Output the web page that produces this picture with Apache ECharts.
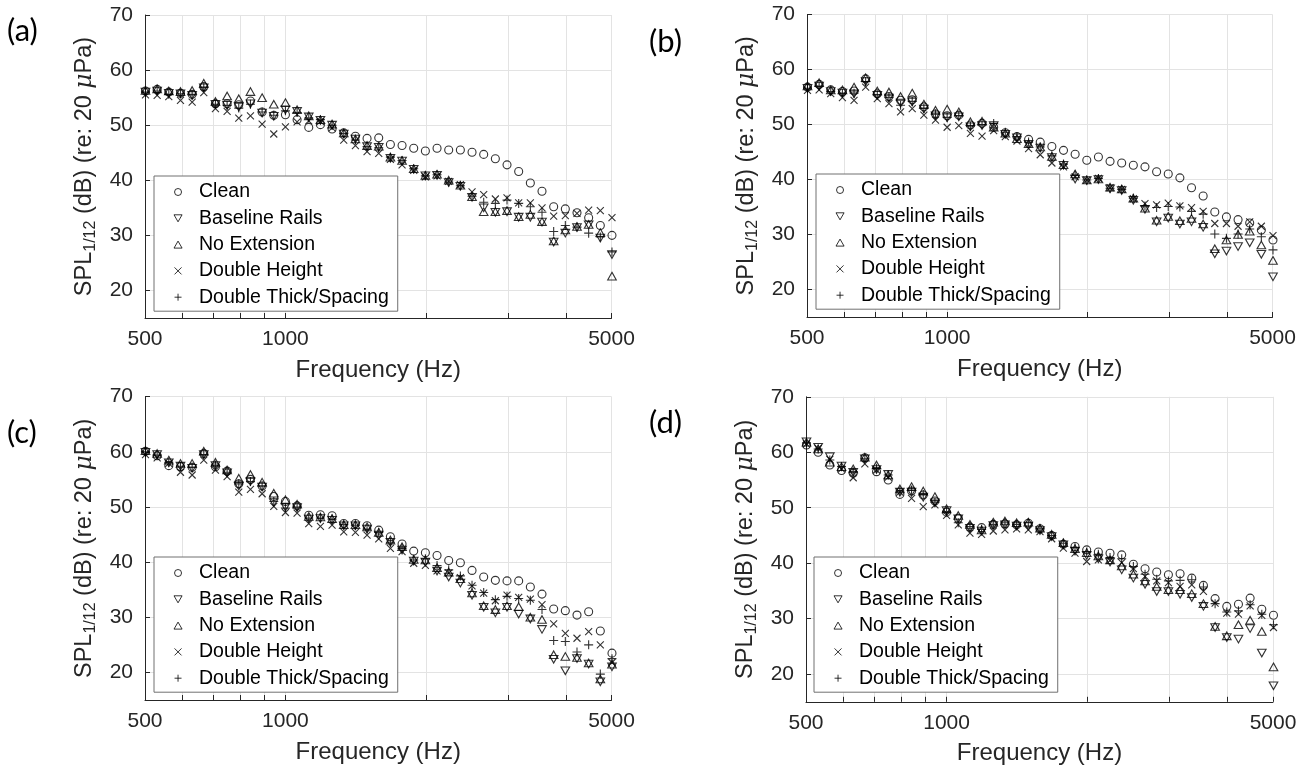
<!DOCTYPE html>
<html>
<head>
<meta charset="utf-8">
<script src="https://cdn.jsdelivr.net/npm/echarts@6/dist/echarts.min.js"></script>
<style>
  html, body { margin: 0; padding: 0; background: #ffffff; }
  #chart { width: 1309px; height: 769px; }
</style>
</head>
<body>
<div id="chart"></div>
<script>
// 1/12-octave band centre frequencies (Hz)
const freqHz = [501.2, 530.9, 562.3, 595.7, 631.0, 668.3, 707.9, 749.9, 794.3, 841.4,
  891.3, 944.1, 1000.0, 1059.3, 1122.0, 1188.5, 1258.9, 1333.5, 1412.5, 1496.2,
  1584.9, 1678.8, 1778.3, 1883.6, 1995.3, 2113.5, 2238.7, 2371.4, 2511.9, 2660.7,
  2818.4, 2985.4, 3162.3, 3349.7, 3548.1, 3758.4, 3981.1, 4217.0, 4466.8, 4731.5, 5011.9];

const seriesNames = ['Clean', 'Baseline Rails', 'No Extension', 'Double Height', 'Double Thick/Spacing'];
const panelLabels = ['(a)', '(b)', '(c)', '(d)'];
const xTickValues = [500, 600, 700, 800, 900, 1000, 2000, 3000, 4000, 5000];
const xLabelValues = [500, 1000, 5000];
const yTickValues = [20, 30, 40, 50, 60, 70];

// Panel (a) SPL, dB
const aClean = [56.2, 56.5, 56.0, 55.8, 55.6, 57.0, 53.9, 53.9, 53.7, 54.4, 52.4, 51.8, 51.9, 51.0, 49.6, 50.1, 49.3, 48.6, 48.0, 47.6, 47.7, 46.5, 46.3, 45.8, 45.3, 45.8, 45.5, 45.5, 45.1, 44.7, 43.9, 42.8, 41.6, 39.5, 38.0, 35.2, 34.8, 34.1, 33.2, 31.8, 30.0];
const aBaseline = [56.0, 56.2, 55.8, 55.7, 55.4, 56.8, 53.8, 53.6, 53.3, 53.9, 52.2, 51.6, 52.8, 52.5, 51.5, 50.9, 50.0, 48.4, 47.5, 46.1, 46.0, 44.0, 43.5, 42.0, 40.8, 40.9, 39.6, 38.9, 36.9, 35.0, 34.2, 34.3, 33.3, 33.3, 32.4, 28.8, 30.4, 31.4, 31.9, 29.5, 26.5];
const aNoExt = [56.3, 56.6, 56.2, 56.1, 56.3, 57.6, 54.3, 55.3, 54.8, 56.1, 55.0, 53.8, 54.1, 52.8, 51.7, 51.0, 50.2, 48.6, 47.5, 46.3, 46.2, 44.2, 43.6, 42.1, 40.9, 41.1, 40.0, 39.1, 37.0, 34.3, 34.3, 34.5, 33.4, 33.8, 32.5, 29.0, 31.0, 31.6, 32.0, 30.5, 22.6];
const aDoubleHeight = [55.5, 55.4, 55.2, 54.5, 54.2, 55.9, 53.0, 52.5, 51.3, 51.7, 50.2, 48.4, 49.7, 50.6, 50.8, 50.7, 49.5, 47.3, 46.3, 45.2, 44.9, 43.8, 42.8, 41.8, 40.6, 40.8, 39.8, 39.2, 37.9, 37.4, 36.6, 36.8, 35.9, 35.9, 35.0, 33.5, 33.6, 34.0, 34.6, 34.5, 33.2];
const aDoubleThick = [56.0, 56.2, 55.6, 55.7, 55.5, 56.8, 53.8, 53.6, 53.1, 53.8, 52.4, 51.8, 52.6, 52.3, 51.3, 51.0, 50.0, 48.5, 47.3, 46.1, 45.9, 44.2, 43.6, 42.1, 40.8, 41.0, 39.7, 39.0, 37.1, 36.0, 35.8, 36.4, 35.8, 35.2, 34.2, 30.7, 31.8, 31.5, 30.4, 29.7, 27.0];

// Panel (b) SPL, dB
const bClean = [56.8, 57.3, 56.3, 56.0, 56.1, 58.3, 55.6, 55.1, 54.4, 54.5, 53.2, 51.9, 51.6, 51.7, 49.9, 50.2, 49.5, 48.5, 47.8, 47.3, 46.8, 46.0, 45.3, 44.6, 43.5, 44.1, 43.3, 43.0, 42.6, 42.3, 41.4, 41.0, 40.3, 38.5, 37.0, 34.1, 33.2, 32.7, 32.1, 30.8, 29.0];
const bBaseline = [56.6, 57.0, 56.0, 55.7, 55.6, 57.8, 55.3, 54.8, 53.9, 54.1, 52.8, 51.6, 51.2, 51.4, 49.6, 49.8, 49.8, 48.2, 47.6, 46.4, 45.7, 44.0, 42.6, 40.1, 39.8, 40.0, 38.3, 38.0, 36.2, 34.6, 32.3, 33.0, 31.9, 32.3, 31.3, 26.5, 27.0, 27.8, 28.5, 26.4, 22.3];
const bNoExt = [57.0, 57.6, 56.3, 56.3, 56.8, 58.5, 56.1, 55.9, 55.1, 55.7, 53.7, 52.6, 52.8, 52.3, 50.5, 50.6, 49.5, 48.4, 47.4, 46.5, 45.9, 44.2, 42.7, 41.0, 39.9, 40.1, 38.6, 38.3, 36.6, 34.8, 32.6, 33.3, 32.5, 32.9, 31.9, 27.4, 29.0, 30.0, 30.6, 28.1, 25.3];
const bDoubleHeight = [56.2, 56.3, 55.6, 54.9, 54.4, 56.8, 54.7, 53.8, 52.3, 52.9, 51.7, 50.8, 49.5, 49.8, 48.4, 47.9, 48.9, 47.8, 47.0, 45.6, 44.5, 43.0, 42.3, 40.5, 39.9, 40.2, 38.5, 38.2, 36.5, 35.6, 35.4, 35.7, 35.2, 34.9, 34.2, 32.0, 32.0, 31.5, 32.3, 31.5, 29.8];
const bDoubleThick = [56.6, 57.0, 56.0, 55.7, 55.7, 57.8, 55.4, 54.9, 53.5, 54.2, 52.9, 51.9, 51.3, 51.6, 49.7, 50.0, 50.2, 48.6, 47.8, 46.8, 45.9, 44.3, 42.8, 40.8, 39.9, 40.2, 38.4, 38.2, 36.6, 35.2, 34.9, 35.1, 35.0, 34.2, 33.7, 30.1, 29.3, 30.1, 31.0, 29.6, 27.2];

// Panel (c) SPL, dB
const cClean = [60.1, 59.3, 57.5, 57.3, 57.2, 59.7, 57.3, 56.5, 54.2, 55.0, 53.8, 51.9, 51.0, 50.2, 48.5, 48.6, 48.4, 47.0, 47.0, 46.6, 45.8, 44.6, 43.3, 42.0, 41.7, 41.2, 40.3, 39.9, 38.5, 37.3, 36.7, 36.6, 36.6, 35.5, 34.2, 31.5, 31.2, 30.4, 31.0, 27.5, 23.5];
const cBaseline = [59.9, 59.5, 58.0, 57.4, 57.0, 59.5, 57.5, 56.2, 53.8, 54.6, 53.6, 50.8, 50.0, 49.9, 47.8, 47.9, 47.6, 46.6, 46.6, 46.0, 44.9, 43.6, 42.2, 40.2, 40.0, 38.4, 37.3, 36.2, 34.0, 31.8, 30.8, 31.8, 30.6, 29.7, 27.8, 22.4, 20.3, 22.5, 21.5, 18.3, 21.0];
const cNoExt = [60.2, 59.7, 58.5, 57.9, 57.9, 60.1, 58.1, 56.7, 55.2, 55.9, 54.5, 52.5, 51.3, 50.5, 48.3, 48.2, 47.9, 46.8, 46.8, 46.4, 45.4, 44.0, 42.8, 40.5, 40.4, 39.0, 38.2, 37.0, 34.4, 32.1, 31.4, 32.1, 31.9, 30.0, 29.6, 23.2, 22.9, 22.7, 21.7, 18.8, 21.5];
const cDoubleHeight = [59.5, 58.9, 57.9, 56.3, 55.8, 58.5, 56.7, 55.5, 52.7, 53.2, 52.4, 50.1, 49.0, 48.9, 47.0, 46.5, 46.7, 45.5, 45.4, 44.9, 44.2, 42.5, 41.9, 39.8, 39.4, 38.4, 38.0, 37.2, 35.7, 34.4, 33.0, 34.0, 33.6, 33.3, 32.3, 28.8, 27.1, 26.2, 27.4, 25.0, 21.8];
const cDoubleThick = [60.0, 59.4, 58.1, 57.4, 57.2, 59.5, 57.6, 56.3, 54.2, 54.6, 53.8, 51.0, 49.8, 50.0, 48.0, 48.0, 47.8, 46.8, 46.7, 46.0, 45.4, 43.6, 42.5, 40.4, 40.6, 39.4, 38.6, 37.5, 35.8, 34.5, 33.2, 33.8, 33.4, 33.1, 31.4, 25.8, 25.6, 23.7, 25.0, 19.7, 22.5];

// Panel (d) SPL, dB
const dClean = [61.3, 60.0, 57.7, 56.7, 56.2, 59.0, 56.5, 55.0, 52.4, 53.0, 52.3, 51.2, 49.2, 48.1, 46.5, 46.4, 47.0, 47.1, 46.9, 47.2, 46.2, 45.0, 43.4, 43.0, 42.4, 42.0, 41.8, 41.5, 39.8, 39.0, 38.4, 37.9, 38.1, 37.3, 36.0, 33.6, 32.2, 32.6, 33.7, 31.7, 30.6];
const dBaseline = [61.9, 60.9, 59.2, 57.5, 56.4, 58.8, 56.9, 56.0, 52.8, 52.8, 51.9, 50.9, 49.5, 48.0, 46.3, 45.8, 46.8, 46.9, 46.7, 46.7, 45.9, 44.8, 43.3, 42.2, 41.4, 40.8, 40.2, 38.8, 37.3, 36.2, 34.9, 34.9, 34.4, 33.8, 32.2, 28.4, 26.6, 26.3, 28.2, 23.8, 17.9];
const dNoExt = [61.8, 60.6, 58.2, 57.4, 57.0, 59.1, 57.7, 55.9, 53.4, 53.8, 53.0, 52.0, 49.8, 48.6, 47.0, 46.0, 47.4, 47.6, 47.3, 47.4, 46.3, 45.2, 43.7, 42.6, 41.9, 41.3, 40.6, 39.5, 38.0, 36.8, 35.8, 35.2, 35.2, 34.5, 32.7, 28.6, 26.9, 28.9, 29.7, 27.7, 21.3];
const dDoubleHeight = [61.5, 60.7, 58.7, 57.0, 55.4, 57.9, 56.8, 55.5, 52.8, 51.7, 50.2, 50.5, 48.6, 46.9, 45.4, 45.2, 45.8, 46.0, 46.2, 46.0, 45.7, 44.4, 42.7, 41.8, 40.3, 40.6, 40.5, 40.1, 39.0, 37.6, 36.8, 36.5, 35.8, 36.1, 34.9, 32.8, 31.0, 30.8, 32.3, 30.6, 28.4];
const dDoubleThick = [61.7, 60.6, 58.6, 57.4, 56.5, 58.8, 57.1, 55.9, 53.0, 53.2, 52.4, 51.0, 49.3, 47.3, 46.6, 46.1, 47.0, 47.3, 47.0, 47.3, 46.2, 45.0, 43.6, 42.8, 42.0, 41.6, 41.0, 40.8, 39.4, 38.0, 37.1, 36.8, 36.9, 37.0, 35.7, 32.7, 31.2, 31.4, 32.5, 30.8, 28.9];

const panelValues = [
  [aClean, aBaseline, aNoExt, aDoubleHeight, aDoubleThick],
  [bClean, bBaseline, bNoExt, bDoubleHeight, bDoubleThick],
  [cClean, cBaseline, cNoExt, cDoubleHeight, cDoubleThick],
  [dClean, dBaseline, dNoExt, dDoubleHeight, dDoubleThick]
];

// Layout of the four axes boxes
const gridBoxes = [
  { left: 145, top: 15, width: 466.5, height: 303 },
  { left: 807, top: 14.5, width: 465.5, height: 302.5 },
  { left: 145, top: 396.7, width: 466.5, height: 303.3 },
  { left: 806, top: 396.8, width: 467, height: 305 }
];
const legendPos = [
  { left: 154, top: 176 },
  { left: 816, top: 174 },
  { left: 154, top: 557 },
  { left: 814, top: 557 }
];
const labelPos = [
  { left: 7, top: 15 },
  { left: 649, top: 26 },
  { left: 7, top: 417 },
  { left: 649, top: 407 }
];

const ink = '#000000';
const axisInk = '#262626';
const gridInk = '#e3e3e3';
const sans = '"Liberation Sans", Arial, Helvetica, sans-serif';

// open markers: circle, down-triangle, up-triangle, cross, plus
const markerSymbols = [
  'circle',
  'path://M0,0L10,0L5,8.66Z',
  'path://M5,0L10,8.66L0,8.66Z',
  'path://M0,0L10,10M10,0L0,10',
  'path://M5,0L5,10M0,5L10,5'
];
const markerSizes = [8, [8.6, 7.6], [8.6, 7.6], 7, 9];

const grid = gridBoxes.map(g => Object.assign({ containLabel: false }, g));

const xAxis = gridBoxes.map((g, k) => ({
  type: 'log',
  logBase: 10,
  gridIndex: k,
  min: 500,
  max: 5000,
  axisLine: { show: true, lineStyle: { color: axisInk, width: 1 } },
  axisTick: { show: true, inside: true, length: 5, customValues: xTickValues, lineStyle: { color: axisInk } },
  axisLabel: {
    customValues: xLabelValues, color: axisInk, fontSize: 21, fontFamily: sans, margin: 11,
    formatter: v => String(Math.round(v))
  },
  splitLine: { show: true, lineStyle: { color: gridInk, width: 1 } },
  minorTick: { show: false },
  name: 'Frequency (Hz)',
  nameLocation: 'middle',
  nameGap: 40,
  nameTextStyle: { color: axisInk, fontSize: 24, fontFamily: sans }
}));

const yAxis = gridBoxes.map((g, k) => ({
  type: 'value',
  gridIndex: k,
  min: 15,
  max: 70,
  axisLine: { show: true, lineStyle: { color: axisInk, width: 1 } },
  axisTick: { show: true, inside: true, length: 5, customValues: yTickValues, lineStyle: { color: axisInk } },
  axisLabel: { customValues: yTickValues, color: axisInk, fontSize: 21, fontFamily: sans, margin: 12 },
  splitLine: { show: true, lineStyle: { color: gridInk, width: 1 } },
  name: '{t|SPL}{s|1/12}{t| (dB) (re: 20 }{m|μ}{t|Pa)}',
  nameLocation: 'middle',
  nameRotate: 90,
  nameGap: 46,
  nameTextStyle: {
    color: axisInk,
    rich: {
      t: { fontSize: 23.5, fontFamily: sans, color: axisInk },
      s: { fontSize: 16, fontFamily: sans, color: axisInk, padding: [12, 0, 0, 0] },
      m: { fontSize: 23.5, fontFamily: '"DejaVu Serif", "Liberation Serif", serif', fontStyle: 'italic', color: axisInk }
    }
  }
}));

const series = [];
panelValues.forEach((vals, k) => {
  vals.forEach((arr, s) => {
    series.push({
      type: 'scatter',
      name: seriesNames[s],
      xAxisIndex: k,
      yAxisIndex: k,
      symbol: markerSymbols[s],
      symbolSize: markerSizes[s],
      clip: false,
      itemStyle: { color: 'rgba(0,0,0,0)', borderColor: ink, borderWidth: 1.1 },
      emphasis: { disabled: true },
      data: freqHz.map((f, i) => [f, arr[i]])
    });
  });
});

const legend = legendPos.map(p => ({
  orient: 'vertical',
  left: p.left,
  top: p.top,
  data: seriesNames,
  selectedMode: false,
  backgroundColor: '#ffffff',
  borderColor: '#707070',
  borderWidth: 1,
  padding: [6, 9, 4, 19.5],
  itemGap: 6.3,
  itemWidth: 32,
  itemHeight: 7,
  itemStyle: { color: 'rgba(0,0,0,0)', borderColor: ink, borderWidth: 1 },
  textStyle: { fontSize: 19.5, fontFamily: sans, color: '#000000', lineHeight: 20 }
}));

const graphic = panelLabels.map((txt, k) => ({
  type: 'text',
  left: labelPos[k].left,
  top: labelPos[k].top,
  style: { text: txt, fill: '#000000', font: '31px Lato, "Open Sans", sans-serif' }
}));

const chart = echarts.init(document.getElementById('chart'), null, { renderer: 'canvas' });
chart.setOption({
  animation: false,
  backgroundColor: '#ffffff',
  grid, xAxis, yAxis, series, legend, graphic
});
</script>
</body>
</html>
